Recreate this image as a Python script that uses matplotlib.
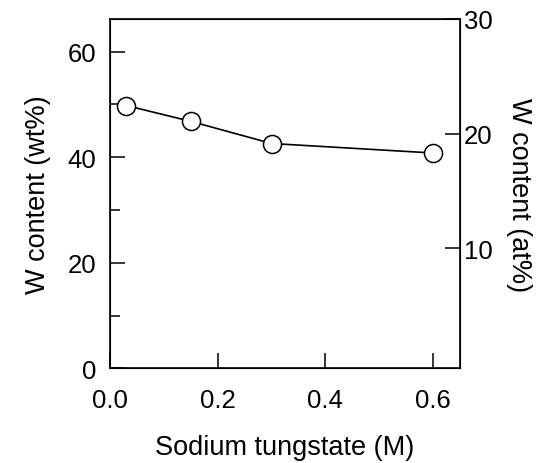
import matplotlib.pyplot as plt
from matplotlib.ticker import MultipleLocator

plt.rcParams["font.family"] = ["Liberation Sans", "DejaVu Sans"]

# W content vs sodium tungstate concentration
conc = [0.03, 0.15, 0.30, 0.60]
w_wt = [49.8, 46.8, 42.6, 40.8]

fig = plt.figure(figsize=(5.46, 4.64), dpi=100)
ax = fig.add_axes([0.2015, 0.204, 0.641, 0.753])

ax.plot(conc, w_wt, color="black", linewidth=1.2, marker="o",
        markersize=13, markerfacecolor="white", markeredgecolor="black",
        markeredgewidth=1.1, zorder=3)

ax.set_xlim(0, 0.65)
ax.set_ylim(0, 66.2)
ax.yaxis.set_major_locator(MultipleLocator(20))
ax.yaxis.set_minor_locator(MultipleLocator(10))
ax.set_xticks([0.0, 0.2, 0.4, 0.6])
ax.set_xticklabels(["0.0", "0.2", "0.4", "0.6"])

ax.tick_params(axis="both", which="major", direction="in", length=11,
               width=1.1, labelsize=18.5)
ax.tick_params(axis="x", which="major", pad=14)
ax.tick_params(axis="y", which="major", pad=10)
ax.tick_params(axis="y", which="minor", direction="in", length=7.5, width=1.1)
for s in ax.spines.values():
    s.set_linewidth(1.2)

ax.set_xlabel("Sodium tungstate (M)", fontsize=19.5, labelpad=16)
ax.set_ylabel("W content (wt%)", fontsize=19.5, labelpad=12)

# right axis in at%
ax2 = ax.twinx()
ax2.set_ylim(-0.5, 30)
ax2.set_yticks([10, 20, 30])
ax2.tick_params(axis="y", direction="in", length=11, width=1.1,
                labelsize=18.5, pad=3)
ax2.set_ylabel("W content (at%)", fontsize=19.5, rotation=270, labelpad=28)

fig.savefig("out.png", dpi=100)
